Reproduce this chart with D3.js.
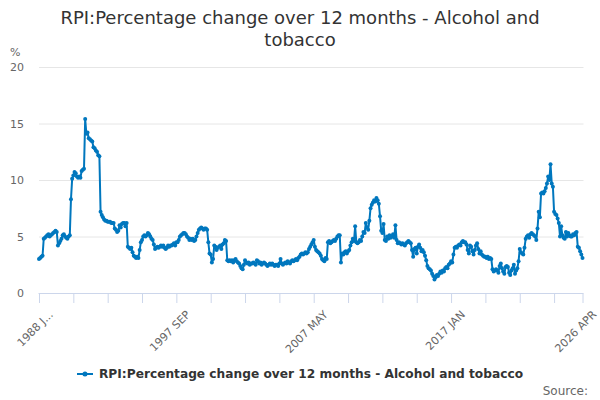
<!DOCTYPE html>
<html>
<head>
<meta charset="utf-8">
<script src="https://cdn.jsdelivr.net/npm/d3@7"></script>
<style>
  body { margin: 0; background: #fff; }
  svg { font-family: "DejaVu Sans", sans-serif; }
</style>
</head>
<body>
<svg id="chart" width="600" height="400"></svg>
<script>
/* globals d3 */
const title = 'RPI:Percentage change over 12 months - Alcohol and tobacco';
const seriesName = 'RPI:Percentage change over 12 months - Alcohol and tobacco';
const yUnit = '%';
const source = 'Source:';

const firstYear = 1988;
const monthNames = ['JAN', 'FEB', 'MAR', 'APR', 'MAY', 'JUN', 'JUL', 'AUG', 'SEP', 'OCT', 'NOV', 'DEC'];
const yTicks = [0, 5, 10, 15, 20];

// one row per year, Jan..Dec
const values = [
  3.0, 3.1, 3.2, 3.3, 4.8, 4.9, 5.0, 5.1, 5.2, 5.0, 5.1, 5.2, // 1988
  5.3, 5.4, 5.5, 5.4, 4.2, 4.4, 4.6, 4.8, 5.1, 5.2, 5.0, 4.9, // 1989
  4.8, 5.0, 5.1, 8.3, 10.1, 10.4, 10.7, 10.6, 10.3, 10.2, 10.3, 10.2, // 1990
  10.8, 10.9, 11.0, 15.4, 14.1, 14.2, 13.7, 13.6, 13.5, 13.4, 12.9, 12.8, // 1991
  12.6, 12.5, 12.2, 12.1, 7.2, 6.9, 6.7, 6.5, 6.4, 6.4, 6.3, 6.3, // 1992
  6.3, 6.2, 6.2, 6.2, 5.7, 5.6, 5.4, 5.5, 6.0, 5.8, 6.1, 6.2, // 1993
  6.2, 5.9, 6.2, 4.1, 4.0, 3.9, 4.0, 3.6, 3.3, 3.2, 3.1, 3.2, // 1994
  3.1, 3.8, 4.5, 4.7, 5.0, 5.1, 5.0, 5.1, 5.3, 5.2, 5.0, 4.8, // 1995
  4.7, 4.3, 3.9, 4.0, 4.1, 4.0, 4.1, 4.2, 4.1, 4.2, 4.0, 3.9, // 1996
  4.0, 4.2, 4.1, 4.2, 4.2, 4.3, 4.4, 4.2, 4.5, 4.5, 4.7, 5.0, // 1997
  5.1, 5.2, 5.3, 5.3, 5.2, 5.0, 4.9, 4.7, 4.8, 4.7, 4.8, 4.6, // 1998
  4.7, 5.0, 5.3, 5.6, 5.7, 5.8, 5.7, 5.6, 5.7, 5.7, 5.6, 4.5, // 1999
  3.5, 3.4, 2.7, 3.0, 4.2, 4.1, 3.8, 4.0, 4.1, 4.2, 3.9, 4.3, // 2000
  4.4, 4.7, 4.6, 2.9, 2.8, 2.9, 2.8, 2.9, 2.7, 2.9, 3.0, 2.8, // 2001
  2.7, 2.6, 2.4, 2.2, 2.1, 2.5, 2.9, 2.7, 2.6, 2.7, 2.5, 2.6, // 2002
  2.6, 2.7, 2.6, 2.5, 2.9, 2.8, 2.6, 2.7, 2.5, 2.6, 2.7, 2.6, // 2003
  2.5, 2.4, 2.5, 2.6, 2.5, 2.6, 2.5, 2.4, 2.5, 2.5, 2.4, 2.6, // 2004
  3.0, 2.6, 2.5, 2.6, 2.7, 2.6, 2.8, 2.7, 2.6, 2.8, 2.9, 2.8, // 2005
  2.9, 3.0, 2.9, 3.1, 3.2, 3.4, 3.5, 3.4, 3.5, 3.6, 3.5, 3.6, // 2006
  3.9, 4.1, 4.3, 4.5, 4.7, 4.1, 3.8, 3.7, 3.6, 3.5, 3.3, 3.0, // 2007
  2.9, 2.8, 3.1, 3.0, 4.5, 4.6, 4.4, 4.5, 4.6, 4.7, 4.6, 4.8, // 2008
  5.0, 5.1, 5.1, 2.7, 3.5, 3.4, 3.6, 3.7, 3.5, 3.7, 3.8, 4.2, // 2009
  4.5, 4.8, 4.6, 5.9, 4.5, 4.4, 4.5, 4.7, 4.6, 5.0, 5.4, 5.3, // 2010
  6.2, 5.8, 5.6, 6.4, 7.5, 7.8, 8.0, 8.2, 8.1, 8.4, 8.2, 7.9, // 2011
  6.8, 5.5, 5.3, 6.1, 4.7, 4.6, 5.0, 4.8, 5.1, 4.9, 5.0, 5.2, // 2012
  4.9, 6.0, 4.7, 4.4, 4.5, 4.4, 4.3, 4.4, 4.3, 4.2, 4.4, 4.5, // 2013
  4.6, 4.5, 4.4, 3.8, 3.2, 3.9, 4.0, 3.5, 4.1, 4.3, 4.0, 3.7, // 2014
  3.8, 3.6, 3.3, 2.9, 2.4, 2.2, 2.1, 2.0, 1.7, 1.5, 1.2, 1.4, // 2015
  1.6, 1.5, 1.7, 1.9, 1.8, 2.0, 1.9, 2.2, 2.3, 2.2, 2.5, 2.6, // 2016
  2.8, 2.7, 3.4, 4.0, 4.1, 4.0, 4.2, 4.3, 4.2, 4.5, 4.6, 4.5, // 2017
  4.5, 4.3, 3.8, 3.5, 4.2, 4.1, 3.7, 3.4, 3.8, 4.2, 4.4, 3.9, // 2018
  3.5, 3.7, 3.4, 3.3, 3.2, 3.2, 3.1, 3.2, 3.0, 3.1, 3.0, 2.1, // 2019
  1.9, 2.0, 2.1, 2.0, 1.8, 2.4, 2.6, 2.2, 1.9, 1.7, 2.3, 2.4, // 2020
  2.3, 1.8, 1.6, 2.0, 2.2, 2.5, 1.7, 2.0, 2.2, 2.8, 3.9, 3.6, // 2021
  3.5, 3.4, 4.0, 4.8, 5.0, 5.1, 4.9, 5.2, 5.3, 5.2, 5.1, 5.0, // 2022
  4.7, 5.7, 7.2, 6.7, 8.8, 8.9, 8.8, 9.0, 9.3, 9.7, 10.3, 10.0, // 2023
  11.4, 9.7, 9.4, 7.2, 7.0, 6.9, 6.6, 6.2, 5.0, 5.9, 5.1, 4.9, // 2024
  4.8, 5.4, 5.0, 5.3, 5.1, 5.0, 5.0, 5.2, 5.1, 5.3, 5.4, 4.1, // 2025
  4.0, 3.7, 3.4, 3.1 // 2026
];

const categories = values.map((v, i) =>
  (firstYear + Math.floor(i / 12)) + ' ' + monthNames[i % 12]);

const data = categories.map((c, i) => ({ category: c, value: values[i] }));

const width = 600;
const height = 400;
const plot = { left: 39, right: 582.5, top: 67, bottom: 293 };
const color = '#0077be';

const svg = d3.select('#chart');

const x = d3.scalePoint()
  .domain(categories)
  .range([plot.left, plot.right]);

const y = d3.scaleLinear()
  .domain([0, 20])
  .range([plot.bottom, plot.top]);

// title, wrapped onto two lines like the original
const titleText = svg.append('text')
  .attr('x', width / 2)
  .attr('y', 24)
  .attr('text-anchor', 'middle')
  .attr('fill', '#333')
  .style('font-size', '18px');
(function wrap () {
  let words = title.split(' ');
  let line = [];
  let tspan = titleText.append('tspan').attr('x', width / 2).attr('dy', 0);
  words.forEach(w => {
    line.push(w);
    tspan.text(line.join(' '));
    if (tspan.node().getComputedTextLength() > 500 && line.length > 1) {
      line.pop();
      tspan.text(line.join(' '));
      line = [w];
      tspan = titleText.append('tspan').attr('x', width / 2).attr('dy', 22).text(w);
    }
  });
})();

// y gridlines + labels
const yAxis = svg.append('g')
  .attr('transform', `translate(${plot.left},0)`)
  .call(d3.axisLeft(y)
    .tickValues(yTicks)
    .tickSize(-(plot.right - plot.left + 1))
    .tickPadding(15));
yAxis.select('.domain').remove();
yAxis.selectAll('.tick line').attr('stroke', '#e6e6e6');
yAxis.selectAll('.tick text')
  .attr('fill', '#666')
  .style('font-size', '11px')
  .style('font-family', '"DejaVu Sans", sans-serif');

svg.append('text')
  .attr('x', 10)
  .attr('y', 56)
  .attr('fill', '#666')
  .style('font-size', '11px')
  .text(yUnit);

// x axis: tick every 29 months, label every 116 and on the last month
const tickEvery = 29;
const labelEvery = 116;
const last = categories.length - 1;
const tickCats = categories.filter((c, i) => i % tickEvery === 0 || i === last);

const xAxis = svg.append('g')
  .attr('transform', `translate(0,${plot.bottom})`)
  .call(d3.axisBottom(x)
    .tickValues(tickCats)
    .tickSize(10)
    .tickSizeOuter(0)
    .tickFormat(c => {
      let i = categories.indexOf(c);
      if (i === 0) return c.slice(0, 6) + '...';
      return (i % labelEvery === 0 || i === last) ? c : '';
    }));
xAxis.select('.domain')
  .attr('stroke', '#ccd6eb')
  .attr('d', `M${plot.left - 0.5},0.5H${plot.right + 0.5}`);
xAxis.selectAll('.tick line').attr('stroke', '#ccd6eb');
xAxis.selectAll('.tick text')
  .attr('fill', '#666')
  .style('font-size', '11px')
  .style('font-family', '"DejaVu Sans", sans-serif')
  .attr('text-anchor', 'end')
  .attr('dy', 0)
  .attr('transform', 'translate(5,13) rotate(-45)');

// the series
const line = d3.line()
  .x(d => x(d.category))
  .y(d => y(d.value));

svg.append('path')
  .datum(data)
  .attr('fill', 'none')
  .attr('stroke', color)
  .attr('stroke-width', 2)
  .attr('stroke-linejoin', 'round')
  .attr('d', line);

svg.append('g')
  .selectAll('circle')
  .data(data)
  .join('circle')
  .attr('cx', d => x(d.category))
  .attr('cy', d => y(d.value))
  .attr('r', 2)
  .attr('fill', color);

// legend
const legend = svg.append('g');
const legendText = legend.append('text')
  .attr('x', 22)
  .attr('y', 4)
  .attr('fill', '#333')
  .style('font-size', '12.2px')
  .style('font-weight', 'bold')
  .text(seriesName);
legend.append('line')
  .attr('x1', 0).attr('x2', 16)
  .attr('y1', 0).attr('y2', 0)
  .attr('stroke', color)
  .attr('stroke-width', 2);
legend.append('circle')
  .attr('cx', 8).attr('cy', 0).attr('r', 2.5)
  .attr('fill', color);
let legendWidth = 22 + legendText.node().getComputedTextLength();
legend.attr('transform', `translate(${(width - legendWidth) / 2},374)`);

svg.append('text')
  .attr('x', 588)
  .attr('y', 395)
  .attr('text-anchor', 'end')
  .attr('fill', '#666')
  .style('font-size', '12px')
  .text(source);
</script>
</body>
</html>
